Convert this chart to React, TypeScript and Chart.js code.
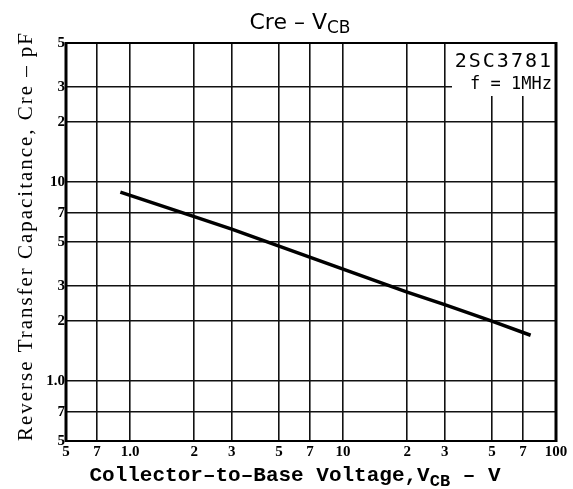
import React, { useEffect, useRef } from "react";
import { Chart, registerables } from "chart.js";

Chart.register(...registerables);

const xTicks = [0.5, 0.7, 1, 2, 3, 5, 7, 10, 20, 30, 50, 70, 100];
const xTickLabels = ["5", "7", "1.0", "2", "3", "5", "7", "10", "2", "3", "5", "7", "100"];
const yTicks = [0.5, 0.7, 1, 2, 3, 5, 7, 10, 20, 30, 50];
const yTickLabels = ["5", "7", "1.0", "2", "3", "5", "7", "10", "2", "3", "5"];

const vcb = [0.9, 2, 3, 10, 20, 30, 50, 76];
const cre = [8.9, 6.7, 5.8, 3.65, 2.8, 2.42, 2.0, 1.7];

const deviceLabel = "2SC3781";
const condLabel = "f = 1MHz";

const drawSub = (ctx: CanvasRenderingContext2D, parts: [string, boolean][], cx: number, y: number, font: string, subFont: string, sub: number) => {
  let total = 0;
  for (const [t, s] of parts) {
    ctx.font = s ? subFont : font;
    total += ctx.measureText(t).width;
  }
  let x = cx - total / 2;
  ctx.textAlign = "left";
  ctx.textBaseline = "alphabetic";
  for (const [t, s] of parts) {
    ctx.font = s ? subFont : font;
    ctx.fillText(t, x, s ? y + sub : y);
    x += ctx.measureText(t).width;
  }
};

const decorPlugin = {
  id: "decor",
  afterDatasetsDraw(chart: any) {
    const { ctx, chartArea } = chart;
    const { left, right, top, bottom } = chartArea;
    ctx.save();
    // legend box
    ctx.fillStyle = "#fff";
    ctx.fillRect(447, top + 1, right - 447 - 1, 86 - top - 1);
    ctx.fillRect(452, 86, right - 452 - 1, 10);
    ctx.fillStyle = "#000";
    ctx.font = '20px "DejaVu Sans Mono"';
    (ctx as any).letterSpacing = "2px";
    ctx.textAlign = "left";
    ctx.textBaseline = "alphabetic";
    const w1 = ctx.measureText(deviceLabel).width;
    ctx.fillText(deviceLabel, right - 3 - w1, 67);
    ctx.font = '17px "DejaVu Sans Mono"';
    (ctx as any).letterSpacing = "0px";
    const w2 = ctx.measureText(condLabel).width;
    ctx.fillText(condLabel, right - 4 - w2, 89);
    // frame
    ctx.strokeStyle = "#000";
    ctx.lineWidth = 2;
    ctx.beginPath();
    ctx.moveTo(left, top);
    ctx.lineTo(right, top);
    ctx.moveTo(left, bottom);
    ctx.lineTo(right, bottom);
    ctx.stroke();
    ctx.lineWidth = 3;
    ctx.beginPath();
    ctx.moveTo(left, top - 1);
    ctx.lineTo(left, bottom + 1);
    ctx.moveTo(right, top - 1);
    ctx.lineTo(right, bottom + 1);
    ctx.stroke();
    // title
    ctx.fillStyle = "#000";
    drawSub(ctx, [["Cre \u2013 V", false], ["CB", true]], 300, 29, '22px "DejaVu Sans"', '17px "DejaVu Sans"', 4);
    // x title
    drawSub(ctx, [["Collector\u2013to\u2013Base Voltage,V", false], ["CB", true], [" \u2013 V", false]], 295, 481, 'bold 21px "Liberation Mono"', 'bold 17px "Liberation Mono"', 5);
    // y title
    ctx.save();
    ctx.translate(32, 236);
    ctx.rotate(-Math.PI / 2);
    ctx.font = '21px "Liberation Serif"';
    const yt = "Reverse Transfer Capacitance, Cre \u2013 pF";
    const w = ctx.measureText(yt).width;
    const target = 408;
    (ctx as any).letterSpacing = Math.max(0, (target - w) / (yt.length - 1)).toFixed(2) + "px";
    ctx.textAlign = "center";
    ctx.textBaseline = "alphabetic";
    ctx.fillText(yt, 0, 0);
    ctx.restore();
    ctx.restore();
  },
};

export default function App() {
  const ref = useRef<HTMLCanvasElement>(null);
  useEffect(() => {
    const canvas = ref.current!;
    const chart = new Chart(canvas, {
      type: "scatter",
      data: {
        datasets: [
          {
            data: vcb.map((v, i) => ({ x: v, y: cre[i] })),
            showLine: true,
            borderColor: "#000",
            borderWidth: 3.5,
            pointRadius: 0,
            fill: false,
          },
        ],
      },
      options: {
        animation: false,
        responsive: false,
        devicePixelRatio: 1,
        layout: { padding: { left: 0, right: 17, top: 43, bottom: 0 } },
        plugins: { legend: { display: false }, tooltip: { enabled: false }, title: { display: false } },
        scales: {
          x: {
            type: "logarithmic",
            min: 0.5,
            max: 100,
            afterBuildTicks: (s: any) => {
              s.ticks = xTicks.map((v) => ({ value: v }));
            },
            afterFit: (s: any) => {
              s.height = 48;
            },
            ticks: {
              autoSkip: false,
              maxRotation: 0,
              padding: 2,
              color: "#000",
              font: { family: "Liberation Serif", size: 15, weight: "bold" },
              callback: (v: any) => {
                const i = xTicks.indexOf(Number(v));
                return i >= 0 ? xTickLabels[i] : "";
              },
            },
            grid: { color: "#111", lineWidth: 1.6, drawTicks: false },
            border: { display: false },
          },
          y: {
            type: "logarithmic",
            min: 0.5,
            max: 50,
            afterBuildTicks: (s: any) => {
              s.ticks = yTicks.map((v) => ({ value: v }));
            },
            afterFit: (s: any) => {
              s.width = 66;
            },
            ticks: {
              autoSkip: false,
              padding: 1,
              color: "#000",
              font: { family: "Liberation Serif", size: 15, weight: "bold" },
              callback: (v: any) => {
                const i = yTicks.indexOf(Number(v));
                return i >= 0 ? yTickLabels[i] : "";
              },
            },
            grid: { color: "#111", lineWidth: 1.6, drawTicks: false },
            border: { display: false },
          },
        },
      },
      plugins: [decorPlugin],
    } as any);
    return () => chart.destroy();
  }, []);
  return (
    <div style={{ position: "fixed", left: 0, top: 0, width: 573, height: 489, background: "#fff" }}>
      <canvas ref={ref} width={573} height={489} />
    </div>
  );
}
